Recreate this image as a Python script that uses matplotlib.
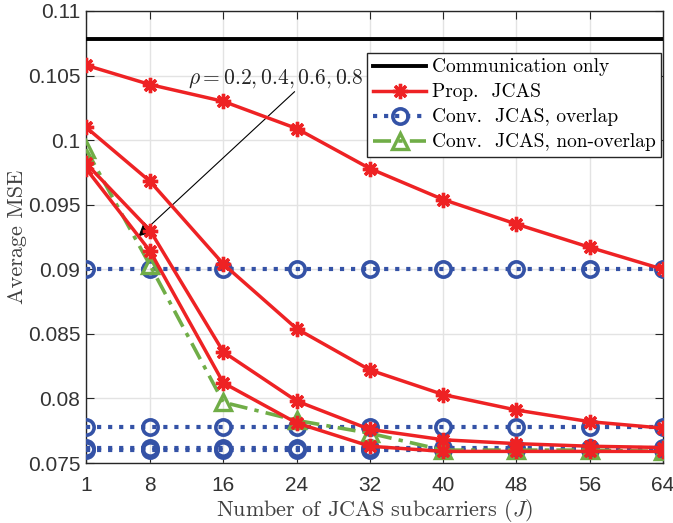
import numpy as np
import matplotlib
matplotlib.use("Agg")
import matplotlib.pyplot as plt

plt.rcParams['mathtext.fontset'] = 'cm'
plt.rcParams['font.family'] = ['Liberation Sans', 'DejaVu Sans']

# number of JCAS subcarriers
J = [1, 8, 16, 24, 32, 40, 48, 56, 64]

comm_only = [0.1078] * len(J)

# proposed JCAS, rho = 0.2, 0.4, 0.6, 0.8
prop_jcas = [
    [0.1058, 0.1043, 0.1030, 0.1009, 0.0978, 0.0954, 0.0935, 0.0917, 0.0900],
    [0.1010, 0.0968, 0.0904, 0.0854, 0.0822, 0.0803, 0.0791, 0.0782, 0.0777],
    [0.0982, 0.0930, 0.0836, 0.0798, 0.0776, 0.0768, 0.0765, 0.0763, 0.0762],
    [0.0978, 0.0914, 0.0812, 0.0781, 0.0763, 0.0759, 0.0759, 0.0759, 0.0759],
]

# conventional JCAS with overlap (flat in J)
conv_overlap = [0.0900, 0.0778, 0.0762, 0.0760]

# conventional JCAS without overlap
conv_nonoverlap = [0.0993, 0.0903, 0.0797, 0.0783, 0.0773, 0.0760, 0.0760, 0.0760, 0.0759]

red = '#EE2224'
blue = '#3452A6'
green = '#70AD47'

fig = plt.figure(figsize=(6.73, 5.23), dpi=100)
ax = fig.add_axes([0.1278, 0.1147, 0.8573, 0.8643])

h_comm, = ax.plot(J, comm_only, color='black', lw=2.8, zorder=3)

for v in conv_overlap:
    h_ov, = ax.plot(J, [v] * len(J), color=blue, ls=':', lw=3, marker='o', ms=11,
                    mfc='none', mew=2.6, zorder=4)

h_non, = ax.plot(J, conv_nonoverlap, color=green, ls=(0, (5, 2, 1.2, 2)), lw=2.6,
                 marker='^', ms=12, mfc='none', mew=2.4, zorder=5)

for row in prop_jcas:
    h_prop, = ax.plot(J, row, color=red, lw=2.5, marker=(8, 2, 0), ms=11, mew=2.4,
                      zorder=6)

ax.set_xlim(1, 64)
ax.set_ylim(0.075, 0.11)
ax.set_xticks(J)
ax.set_xticklabels([str(j) for j in J])
yt = [0.075, 0.08, 0.085, 0.09, 0.095, 0.1, 0.105, 0.11]
ax.set_yticks(yt)
ax.set_yticklabels([f'{t:g}' for t in yt])
ax.tick_params(direction='in', top=True, right=True, labelsize=15, colors='#262626',
               labelcolor='#333333', length=6)
ax.tick_params(axis='x', pad=9)
ax.tick_params(axis='y', pad=4)
ax.grid(True, color='#e3e3e3', lw=1)
ax.set_axisbelow(True)
for s in ax.spines.values():
    s.set_color('#262626')
    s.set_linewidth(1)

ax.set_xlabel('Number of JCAS subcarriers ($J$)', fontsize=16, family='cmr10',
              color='#404040', labelpad=2)
ax.set_ylabel('Average MSE', fontsize=16, family='cmr10', color='#404040', labelpad=1)

ax.annotate('', xy=(6.5, 0.0924), xytext=(24.0, 0.1039),
            arrowprops=dict(arrowstyle='-|>', color='black', lw=0.8, mutation_scale=22))
ax.text(21.75, 0.1048, r'$\rho = 0.2, 0.4, 0.6, 0.8$', fontsize=15.5, ha='center',
        va='center', color='#262626')

leg = ax.legend([h_comm, h_prop, h_ov, h_non],
                ['Communication only', 'Prop.  JCAS', 'Conv.  JCAS, overlap',
                 'Conv.  JCAS, non-overlap'],
                loc='upper right', bbox_to_anchor=(0.997, 0.908), fancybox=False,
                framealpha=1, edgecolor='#262626', prop={'family': 'cmr10', 'size': 14},
                handlelength=2.7, borderpad=0.3, labelspacing=0.36, handletextpad=0.3,
                borderaxespad=0)
leg.get_frame().set_linewidth(1)

fig.savefig('out.png', dpi=100)
